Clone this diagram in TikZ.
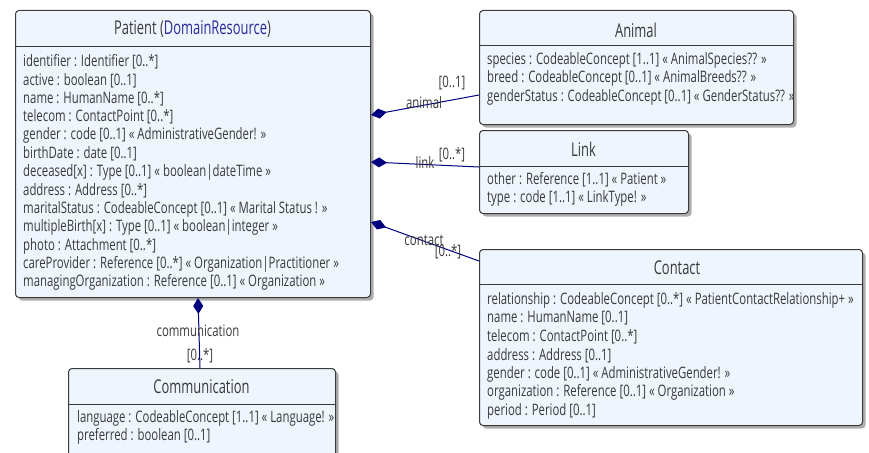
\documentclass[tikz,border=0pt]{standalone}
\usepackage{fontspec}
\setmainfont{Open Sans}[FakeStretch=0.72]
\newfontfamily\titlefont{Open Sans}[FakeStretch=0.68]
\usetikzlibrary{arrows.meta,shadows}
\definecolor{boxfill}{HTML}{EEF5FD}
\definecolor{boxline}{HTML}{3A3A3A}
\definecolor{txt}{HTML}{3A3A3A}
\definecolor{navy}{HTML}{00007F}
\definecolor{dr}{HTML}{2B2B9A}
\tikzset{
  cls/.style={draw=boxline, line width=1pt, fill=boxfill, rounded corners=3.5pt, anchor=north west, inner sep=0pt,
    drop shadow={shadow xshift=3pt, shadow yshift=-3pt, opacity=0.45, fill=black!70}},
  sep/.style={draw=boxline, line width=1pt},
  row/.style={anchor=west, inner sep=0pt, text=txt, font=\fontsize{15.8}{18}\selectfont},
  ttl/.style={inner sep=0pt, text=txt, font=\titlefont\fontsize{19}{22}\selectfont},
  lbl/.style={inner sep=0pt, text=txt, font=\fontsize{15.8}{18}\selectfont},
  assoc/.style={draw=navy, line width=1pt, {Diamond[length=16pt,width=10pt,fill=navy]}-},
}
\begin{document}
\begin{tikzpicture}[x=1pt,y=-1pt]
\useasboundingbox (0,0) rectangle (869,452);
\clip (0,0) rectangle (869,452);
% Patient
\node[cls, minimum width=355pt, minimum height=287pt] (patient) at (15,10) {};
\draw[sep] (15,47) -- (370,47);
\node[ttl] (pt) at (192.5,29) {Patient (\textcolor{dr}{DomainResource})};
\node[row] (p1) at (23,62) {identifier : Identifier [0..*]};
\node[row] (p2) at (23,80.4) {active : boolean [0..1]};
\node[row] (p3) at (23,98.8) {name : HumanName [0..*]};
\node[row] (p4) at (23,117.2) {telecom : ContactPoint [0..*]};
\node[row] (p5) at (23,135.6) {gender : code [0..1] « AdministrativeGender! »};
\node[row] (p6) at (23,154) {birthDate : date [0..1]};
\node[row] (p7) at (23,172.4) {deceased[x] : Type [0..1] « boolean|dateTime »};
\node[row] (p8) at (23,190.8) {address : Address [0..*]};
\node[row] (p9) at (23,209.2) {maritalStatus : CodeableConcept [0..1] « Marital Status ! »};
\node[row] (p10) at (23,227.6) {multipleBirth[x] : Type [0..1] « boolean|integer »};
\node[row] (p11) at (23,246) {photo : Attachment [0..*]};
\node[row] (p12) at (23,264.4) {careProvider : Reference [0..*] « Organization|Practitioner »};
\node[row] (p13) at (23,282.8) {managingOrganization : Reference [0..1] « Organization »};
% Animal
\node[cls, minimum width=314pt, minimum height=114pt] (animal) at (479,10) {};
\draw[sep] (479,46) -- (793,46);
\node[ttl] (at) at (636,30) {Animal};
\node[row] (a1) at (487,60) {species : CodeableConcept [1..1] « AnimalSpecies?? »};
\node[row] (a2) at (487,78.5) {breed : CodeableConcept [0..1] « AnimalBreeds?? »};
\node[row] (a3) at (487,97) {genderStatus : CodeableConcept [0..1] « GenderStatus?? »};
% Link
\node[cls, minimum width=209pt, minimum height=83pt] (link) at (479,130) {};
\draw[sep] (479,166) -- (688,166);
\node[ttl] (lt) at (583.5,149) {Link};
\node[row] (l1) at (487,180) {other : Reference [1..1] « Patient »};
\node[row] (l2) at (487,198.5) {type : code [1..1] « LinkType! »};
% Contact
\node[cls, minimum width=383pt, minimum height=176pt] (contact) at (479,249) {};
\draw[sep] (479,284) -- (862,284);
\node[ttl] (ct) at (677,268) {Contact};
\node[row] (c1) at (487,300) {relationship : CodeableConcept [0..*] « PatientContactRelationship+ »};
\node[row] (c2) at (487,318.5) {name : HumanName [0..1]};
\node[row] (c3) at (487,337) {telecom : ContactPoint [0..*]};
\node[row] (c4) at (487,355.5) {address : Address [0..1]};
\node[row] (c5) at (487,374) {gender : code [0..1] « AdministrativeGender! »};
\node[row] (c6) at (487,392.5) {organization : Reference [0..1] « Organization »};
\node[row] (c7) at (487,411) {period : Period [0..1]};
% Communication
\node[cls, minimum width=267pt, minimum height=100pt] (comm) at (68,368) {};
\draw[sep] (68,404) -- (335,404);
\node[ttl] (cmt) at (201.5,387) {Communication};
\node[row] (m1) at (77,418) {language : CodeableConcept [1..1] « Language! »};
\node[row] (m2) at (77,436) {preferred : boolean [0..1]};
% connectors
\draw[assoc] (patient.east |- 0,115) -- (animal.west |- 0,95);
\node[lbl] (la) at (424,103) {animal};
\node[lbl] (lam) at (452,83) {[0..1]};
\draw[assoc] (patient.east |- 0,162) -- (link.west |- 0,167);
\node[lbl] (ll) at (425,162) {link};
\node[lbl] (llm) at (452,155) {[0..*]};
\draw[assoc] (patient.east |- 0,222) -- (contact.west |- 0,261);
\node[lbl] (lc) at (424,240) {contact};
\node[lbl] (lcm) at (448,252) {[0..*]};
\draw[assoc] (patient.south -| 198,0) -- (comm.north -| 200,0);
\node[lbl] (lm) at (198,331) {communication};
\node[lbl] (lmm) at (200,356) {[0..*]};
\end{tikzpicture}
\end{document}
